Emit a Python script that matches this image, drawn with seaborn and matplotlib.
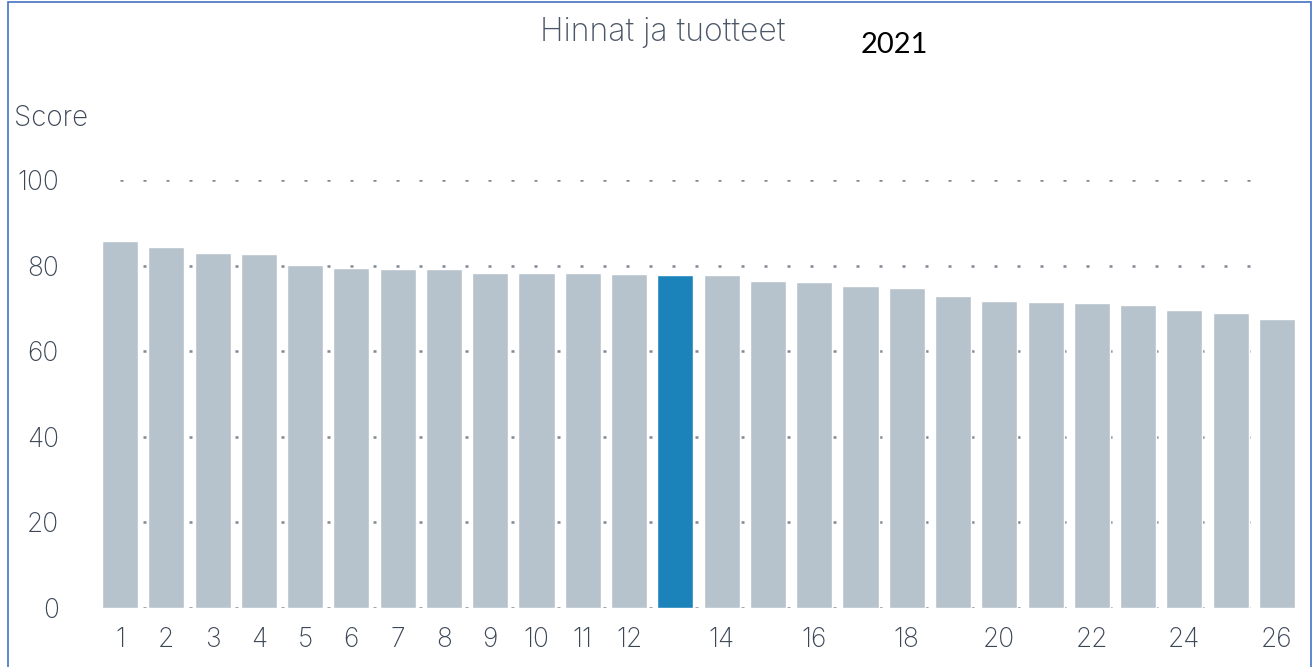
import matplotlib
matplotlib.use("Agg")
import matplotlib.pyplot as plt
import seaborn as sns
import pandas as pd
from matplotlib.patches import Rectangle

# Data
ranks = list(range(1, 27))
scores = [85.7, 84.3, 82.9, 82.6, 80.1, 79.4, 79.2, 79.1, 78.3, 78.3,
          78.2, 78.0, 77.9, 77.9, 76.5, 76.2, 75.2, 74.8, 72.8, 71.7,
          71.4, 71.2, 70.9, 69.6, 68.9, 67.6]
highlight = 13
xtick_labels = ["1", "2", "3", "4", "5", "6", "7", "8", "9", "10", "11", "12",
                "", "14", "", "16", "", "18", "", "20", "", "22", "", "24", "", "26"]
ytick_values = [0, 20, 40, 60, 80, 100]

title = "Hinnat ja tuotteet"
year = "2021"
ylabel = "Score"

# Parameters
gray = "#b7c3cc"
blue = "#1c82ba"
text_col = "#3b4656"
my_fontsize = 19
bar_width = 0.78

sns.set_theme(style="white")
plt.rcParams['font.family'] = ['Inter', 'DejaVu Sans']

df = pd.DataFrame({"rank": [str(r) for r in ranks], "score": scores})
palette = {str(r): (blue if r == highlight else gray) for r in ranks}

fig = plt.figure(figsize=(13.14, 6.67), dpi=100)
ax = fig.add_axes([102 / 1314, 59 / 667, (1295 - 102) / 1314, (608 - 180) / 667])

sns.barplot(data=df, x="rank", y="score", hue="rank", palette=palette,
            width=bar_width, saturation=1, legend=False, ax=ax, zorder=3)

ax.set_xlim(-bar_width / 2, len(ranks) - 1 + bar_width / 2)
ax.set_ylim(0, 100)
ax.set_yticks(ytick_values)
ax.set_yticklabels([str(v) for v in ytick_values], fontsize=my_fontsize, color=text_col,
                   fontweight="light")
ax.set_xticks(range(len(ranks)))
ax.set_xticklabels(xtick_labels, fontsize=my_fontsize, color=text_col, fontweight="light")
ax.tick_params(axis="y", length=0, pad=31)
ax.tick_params(axis="x", length=0, pad=14)
ax.set_xlabel("")
ax.set_ylabel("")
sns.despine(ax=ax, left=True, bottom=True)

# dotted gridlines, drawn behind the bars
for v in ytick_values:
    ax.axhline(v, xmin=0.015, xmax=0.972, color="#7f8894", linewidth=1.8,
               linestyle=(0, (1.2, 8.0)), zorder=0)
ax.patch.set_alpha(0)

fig.text(663 / 1314, 1 - 32 / 667, title, ha="center", va="center",
         fontsize=23, color="#4a5566", fontweight="light")
fig.text(894 / 1314, 1 - 45 / 667, year, ha="center", va="center",
         fontsize=21, color="black", family=['Lato', 'DejaVu Sans'])
fig.text(14 / 1314, 1 - 118 / 667, ylabel, ha="left", va="center",
         fontsize=20, color=text_col, fontweight="light")

# blue frame around the picture
fig.patches.append(Rectangle((8 / 1314, -0.01), (1311 - 8) / 1314, 1 - 2 / 667 + 0.01,
                             transform=fig.transFigure, fill=False,
                             edgecolor="#4472c4", linewidth=1.2))

fig.savefig("out.png", dpi=100)
